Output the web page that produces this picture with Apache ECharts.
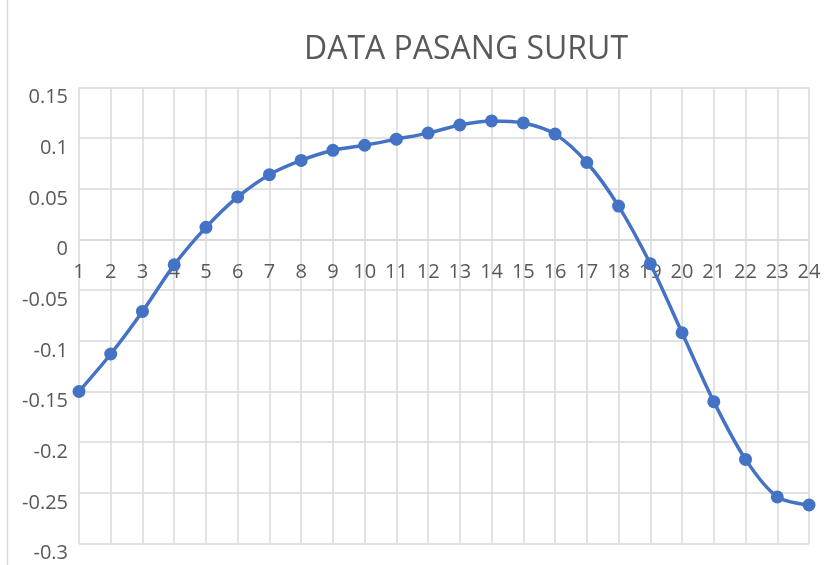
<!DOCTYPE html>
<html>
<head>
<meta charset="utf-8">
<script src="https://cdn.jsdelivr.net/npm/echarts@6/dist/echarts.min.js"></script>
<style>
  html, body { margin: 0; padding: 0; background: #fff; }
  #chart { width: 835px; height: 565px; }
</style>
</head>
<body>
<div id="chart"></div>
<script>
// data pasang surut, 24 jam
const hours = ['1', '2', '3', '4', '5', '6', '7', '8', '9', '10', '11', '12',
  '13', '14', '15', '16', '17', '18', '19', '20', '21', '22', '23', '24']
const tideLevel = [-0.150, -0.113, -0.071, -0.025, 0.012, 0.042, 0.064, 0.078,
  0.088, 0.093, 0.099, 0.105, 0.113, 0.117, 0.115, 0.104, 0.076, 0.033,
  -0.024, -0.092, -0.160, -0.217, -0.254, -0.262]
const yTicks = [-0.3, -0.25, -0.2, -0.15, -0.1, -0.05, 0, 0.05, 0.1, 0.15]

const gridColor = '#d9d9d9'
const textColor = '#595959'
const font = 'Open Sans'

const chart = echarts.init(document.getElementById('chart'))

const option = {
  animation: false,
  title: {
    text: 'DATA PASANG SURUT',
    left: 461,
    top: 29,
    textAlign: 'center',
    textStyle: { color: textColor, fontFamily: font, fontSize: 32, fontWeight: 'normal' }
  },
  graphic: [
    {
      type: 'line',
      shape: { x1: 7.5, y1: 0, x2: 7.5, y2: 565 },
      style: { stroke: gridColor, lineWidth: 1.5 }
    }
  ],
  grid: { left: 79, right: 26, top: 87.5, bottom: 21.5, outerBoundsMode: 'none', containLabel: false },
  xAxis: {
    type: 'category',
    data: hours,
    boundaryGap: false,
    // axis sits on the zero line (303.5px above the bottom of the grid)
    offset: -303.5,
    axisLine: { onZero: false, lineStyle: { color: gridColor, width: 1.5 } },
    axisTick: { show: false },
    axisLabel: { color: textColor, fontFamily: font, fontSize: 20, margin: 22 },
    splitLine: { show: true, lineStyle: { color: gridColor, width: 1.5 } }
  },
  yAxis: {
    type: 'value',
    min: yTicks[0],
    max: yTicks[yTicks.length - 1],
    interval: 0.05,
    axisLine: { show: false },
    axisTick: { show: false },
    axisLabel: {
      color: textColor,
      fontFamily: font,
      fontSize: 20,
      margin: 11,
      verticalAlign: 'top',
      lineHeight: 20,
      formatter: (v) => String(parseFloat(v.toFixed(2)))
    },
    splitLine: { lineStyle: { color: gridColor, width: 1.5 } }
  },
  series: [
    {
      type: 'line',
      data: tideLevel,
      smooth: 0.3,
      symbol: 'circle',
      symbolSize: 13,
      lineStyle: { color: '#4472c4', width: 3.5 },
      itemStyle: { color: '#4472c4' }
    }
  ]
}

chart.setOption(option)
</script>
</body>
</html>
